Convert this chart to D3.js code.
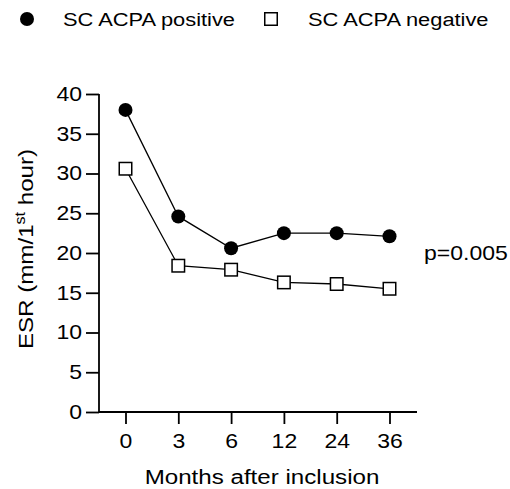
<!DOCTYPE html>
<html>
<head>
<meta charset="utf-8">
<script src="https://cdn.jsdelivr.net/npm/d3@7"></script>
<style>
  body { margin: 0; background: #fff; }
  svg text { font-family: Arial, "Liberation Sans", sans-serif; fill: #000; }
</style>
</head>
<body>
<svg id="chart" width="510" height="489"></svg>
<script>
const months = ['0', '3', '6', '12', '24', '36']
const positive = [38.0, 24.6, 20.6, 22.5, 22.5, 22.1]
const negative = [30.6, 18.4, 17.9, 16.3, 16.1, 15.5]
const yTicks = [0, 5, 10, 15, 20, 25, 30, 35, 40]

// the original font runs a bit wider than Arial
const stretch = 1.15

const svg = d3.select('#chart')

const x = d3.scalePoint()
    .domain(months)
    .range([125.5, 389.5])

const y = d3.scaleLinear()
    .domain([0, 40])
    .range([412, 94])

function addText(px, py, size, str, anchor) {
    return svg.append('text')
        .attr('transform', `translate(${px},${py}) scale(${stretch},1)`)
        .attr('text-anchor', anchor || 'start')
        .style('font-size', `${size}px`)
        .text(str)
}

// y axis
const yAxis = svg.append('g')
    .attr('transform', 'translate(99,0)')
    .call(d3.axisLeft(y).tickValues(yTicks).tickSize(13).tickPadding(4))
yAxis.select('.domain').attr('d', `M0,${y(40)}V${y(0)}`)
yAxis.selectAll('.tick text')
    .attr('x', -17 / stretch)
    .attr('transform', `scale(${stretch},1)`)

// x axis line + ticks
const xAxis = svg.append('g')
    .attr('transform', 'translate(0,412)')
    .call(d3.axisBottom(x).tickSize(12).tickPadding(10))
xAxis.select('.domain').attr('d', 'M99,0H417')
xAxis.selectAll('.tick text')
    .attr('transform', `scale(${stretch},1)`)

svg.selectAll('.domain, .tick line')
    .attr('stroke', '#000')
    .attr('stroke-width', 1.8)
svg.selectAll('.tick text')
    .style('font-size', '20px')
    .attr('fill', '#000')

// axis titles
addText(262, 484, 21, 'Months after inclusion', 'middle')

const yTitle = svg.append('text')
    .attr('transform', `translate(33,249) rotate(-90) scale(${stretch},1)`)
    .attr('text-anchor', 'middle')
    .style('font-size', '21px')
yTitle.append('tspan').text('ESR (mm/1')
yTitle.append('tspan').attr('dy', -8).style('font-size', '14px').text('st')
yTitle.append('tspan').attr('dy', 8).text(' hour)')

// lines
const line = d3.line()
    .x((d, i) => x(months[i]))
    .y(d => y(d))

svg.append('path')
    .datum(negative)
    .attr('d', line)
    .attr('fill', 'none')
    .attr('stroke', '#000')
    .attr('stroke-width', 1.3)

svg.append('path')
    .datum(positive)
    .attr('d', line)
    .attr('fill', 'none')
    .attr('stroke', '#000')
    .attr('stroke-width', 1.3)

// markers
const sq = 12.5

svg.selectAll('.sq')
    .data(negative)
    .enter().append('rect')
        .attr('class', 'sq')
        .attr('x', (d, i) => x(months[i]) - sq / 2)
        .attr('y', d => y(d) - sq / 2)
        .attr('width', sq)
        .attr('height', sq)
        .attr('fill', '#fff')
        .attr('stroke', '#000')
        .attr('stroke-width', 1.5)

svg.selectAll('.dot')
    .data(positive)
    .enter().append('circle')
        .attr('class', 'dot')
        .attr('cx', (d, i) => x(months[i]))
        .attr('cy', d => y(d))
        .attr('r', 7)
        .attr('fill', '#000')

// p value
addText(424, 260, 20, 'p=0.005')

// legend
svg.append('circle')
    .attr('cx', 27)
    .attr('cy', 19)
    .attr('r', 7)
    .attr('fill', '#000')
addText(63, 26, 19, 'SC ACPA positive')

svg.append('rect')
    .attr('x', 271 - sq / 2)
    .attr('y', 19 - sq / 2)
    .attr('width', sq)
    .attr('height', sq)
    .attr('fill', '#fff')
    .attr('stroke', '#000')
    .attr('stroke-width', 1.5)
addText(308, 26, 19, 'SC ACPA negative')
</script>
</body>
</html>
